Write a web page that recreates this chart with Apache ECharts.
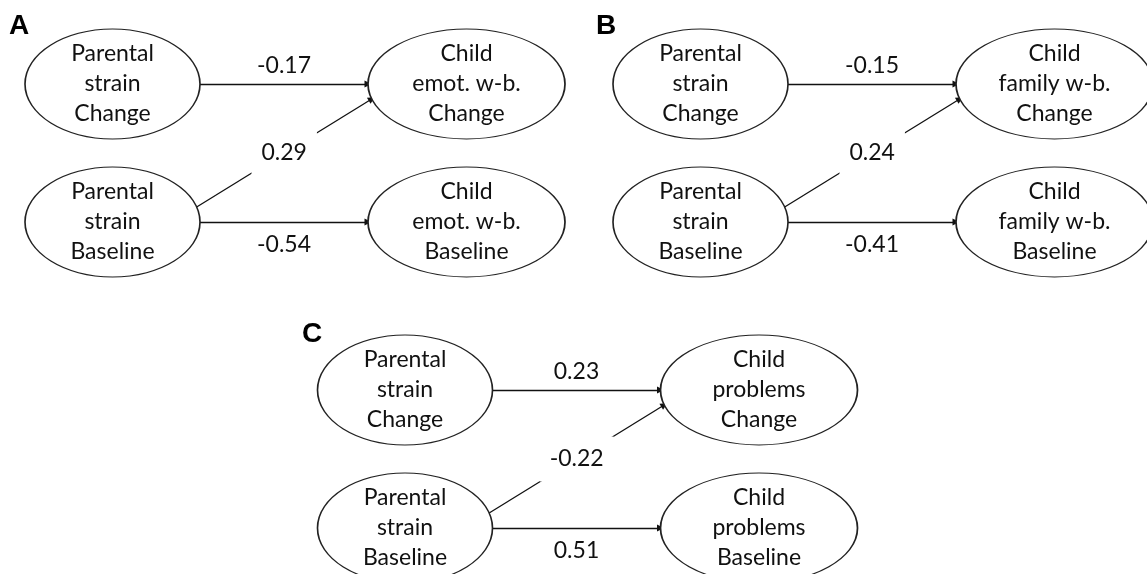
<!DOCTYPE html>
<html>

<head>
  <meta charset="utf-8">
  <title>Parental strain and child outcomes</title>
  <script src="https://cdn.jsdelivr.net/npm/echarts@6/dist/echarts.min.js"></script>
  <style>
    body {
      margin: 0;
      padding: 0;
      background-color: #fff;
    }

    #main {
      width: 1147px;
      height: 574px;
    }
  </style>
</head>

<body>
  <div id="main"></div>

  <script type="text/javascript">
    // data
    var panels = ['A', 'B', 'C'];
    var outcomeNames = ['emot. w-b.', 'family w-b.', 'problems'];
    var timepoints = ['Change', 'Baseline'];
    // path coefficients, one per panel
    var coefChange = [-0.17, -0.15, 0.23];     // strain change -> child change
    var coefCross = [0.29, 0.24, -0.22];       // strain baseline -> child change
    var coefBaseline = [-0.54, -0.41, 0.51];   // strain baseline -> child baseline

    // layout (pixels, same as the axis range)
    var panelOffset = [[0, 0], [588, 0], [292.5, 306]];
    var letterPos = [[9, 12], [596, 12], [302, 320]];
    var parentX = 112.5, childX = 466.5;
    var rowY = [84, 222];
    var parentRx = 87.5, childRx = 98.5, ry = 55;
    var crossDy = 15;
    var ellipsePath = 'path://M0,50 C0,22.4 22.4,0 50,0 C77.6,0 100,22.4 100,50 C100,77.6 77.6,100 50,100 C22.4,100 0,77.6 0,50 Z';
    var textFont = 'Lato';

    var nodes = [];
    var arrows = [];
    var coefLabels = [];
    var titles = [];

    for (var p = 0; p < panels.length; p++) {
      var ox = panelOffset[p][0], oy = panelOffset[p][1];
      for (var r = 0; r < 2; r++) {
        nodes.push({
          name: 'Parental\nstrain\n' + timepoints[r],
          value: [parentX + ox, rowY[r] + oy],
          symbolSize: [parentRx * 2, ry * 2]
        });
        nodes.push({
          name: 'Child\n' + outcomeNames[p] + '\n' + timepoints[r],
          value: [childX + ox, rowY[r] + oy],
          symbolSize: [childRx * 2, ry * 2]
        });
      }
      var x1 = parentX + parentRx + ox;
      var x2 = childX - childRx + ox;
      var y0 = rowY[0] + oy, y1 = rowY[1] + oy;
      arrows.push({ coords: [[x1, y0], [x2, y0]] });
      arrows.push({ coords: [[x1, y1], [x2, y1]] });
      var k = Math.sqrt(1 - (crossDy / ry) * (crossDy / ry));
      var d1 = [parentX + parentRx * k + ox, y1 - crossDy];
      var d2 = [childX - childRx * k + ox, y0 + crossDy];
      arrows.push({ coords: [d1, d2] });

      var midX = (x1 + x2) / 2;
      coefLabels.push({ value: [midX, y0 - 18], text: coefChange[p].toFixed(2) });
      coefLabels.push({ value: [midX, y1 + 23], text: coefBaseline[p].toFixed(2) });
      coefLabels.push({
        value: [(d1[0] + d2[0]) / 2, (d1[1] + d2[1]) / 2],
        text: coefCross[p].toFixed(2),
        label: { backgroundColor: '#fff', padding: [11, 10] }
      });

      titles.push({
        text: panels[p],
        left: letterPos[p][0],
        top: letterPos[p][1],
        padding: 0,
        textStyle: {
          fontFamily: 'Liberation Sans',
          fontWeight: 'bold',
          fontSize: 28,
          color: '#000'
        }
      });
    }

    var myChart = echarts.init(document.getElementById('main'));

    var option = {
      animation: false,
      title: titles,
      grid: { left: 0, right: 0, top: 0, bottom: 0 },
      xAxis: { type: 'value', min: 0, max: 1147, show: false },
      yAxis: { type: 'value', min: 0, max: 574, inverse: true, show: false },
      series: [{
        type: 'lines',
        coordinateSystem: 'cartesian2d',
        symbol: ['none', 'triangle'],
        symbolSize: 7,
        lineStyle: { color: '#111', width: 1.3, opacity: 1, curveness: 0 },
        data: arrows,
        z: 2
      }, {
        type: 'scatter',
        symbol: ellipsePath,
        itemStyle: { color: '#fff', borderColor: '#222', borderWidth: 1.3, opacity: 1 },
        label: {
          show: true,
          position: 'inside',
          formatter: '{b}',
          fontFamily: textFont,
          fontSize: 23,
          lineHeight: 30,
          color: '#111'
        },
        data: nodes,
        z: 3
      }, {
        type: 'scatter',
        symbol: 'rect',
        symbolSize: 1,
        itemStyle: { color: 'rgba(255,255,255,0)', opacity: 1 },
        label: {
          show: true,
          position: 'inside',
          formatter: function (pr) { return pr.data.text; },
          fontFamily: textFont,
          fontSize: 23,
          color: '#111'
        },
        data: coefLabels,
        z: 4
      }]
    };

    myChart.setOption(option);
  </script>
</body>

</html>
